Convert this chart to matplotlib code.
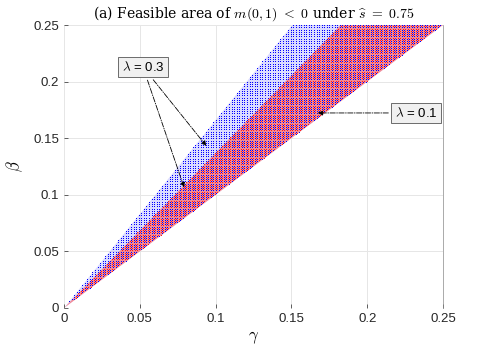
import numpy as np
import matplotlib
matplotlib.use("Agg")
import matplotlib.pyplot as plt

# Region boundaries (beta = slope * gamma)
lam03_slopes = [1.0, 1.66]   # lambda = 0.3 feasible wedge
lam01_slopes = [1.0, 1.37]   # lambda = 0.1 feasible wedge
gamma_step = 0.0017
beta_step = 0.0020
xticks = [0, 0.05, 0.1, 0.15, 0.2, 0.25]
yticks = [0, 0.05, 0.1, 0.15, 0.2, 0.25]

plt.rcParams['mathtext.fontset'] = 'cm'

fig = plt.figure(figsize=(4.9, 3.46), dpi=100)
ax = fig.add_axes([64/490, 1-308/346, (443-64)/490, (308-25)/346])

g = np.arange(gamma_step, 0.25 + 1e-9, gamma_step)
b = np.arange(beta_step / 2, 0.25 + 1e-9, beta_step)
G, B = np.meshgrid(g, b)
m03 = (B >= lam03_slopes[0]*G) & (B <= lam03_slopes[1]*G)
m01 = (B >= lam01_slopes[0]*G) & (B <= lam01_slopes[1]*G)

# light background tint of the wedges
gg = np.array([0, 0.25])
ax.fill_between(gg, lam03_slopes[0]*gg, lam03_slopes[1]*gg, color='#b0b0ff', alpha=0.45, lw=0)
ax.fill_between(gg, lam01_slopes[0]*gg, lam01_slopes[1]*gg, color='#ff6060', alpha=0.65, lw=0)

ax.plot(G[m03], B[m03], ',', color='blue')
ax.plot(G[m01] + gamma_step/2, B[m01] + beta_step/2, ',', color='#ff1a1a')

ax.set_xlim(0, 0.25)
ax.set_ylim(0, 0.25)
ax.set_xticks(xticks)
ax.set_yticks(yticks)
ax.set_xticklabels(['0', '0.05', '0.1', '0.15', '0.2', '0.25'])
ax.set_yticklabels(['0', '0.05', '0.1', '0.15', '0.2', '0.25'])
ax.tick_params(direction='in', length=3, width=0.5, colors='#262626', labelsize=9.5)
for lbl in ax.get_xticklabels() + ax.get_yticklabels():
    lbl.set_family('Liberation Sans')
ax.grid(True, color='#e6e6e6', linewidth=0.7)
ax.set_axisbelow(True)
for s in ax.spines.values():
    s.set_color('#262626')
    s.set_linewidth(0.5)
ax.spines['top'].set_visible(False)
ax.spines['left'].set_visible(False)
ax.spines['bottom'].set_visible(False)
ax.spines['right'].set_color('#888888')

ax.set_xlabel(r'$\gamma$', fontsize=12, labelpad=2)
ax.set_ylabel(r'$\beta$', fontsize=12, labelpad=6)
ax.set_title(r'(a) Feasible area of $m(0,1)\ <\ 0$ under $\widehat{s}\ =\ 0.75$',
             fontsize=10, pad=5)
ax.title.set_fontfamily('DejaVu Serif')

bbox = dict(boxstyle='square,pad=0.25', fc='#f0f0f0', ec='#555555', lw=0.6)
arrow = dict(arrowstyle='-|>', color='black', lw=0.6, linestyle='-.', mutation_scale=7)
ax.annotate(r'$\lambda$ = 0.3', xy=(0.095, 0.1413), xytext=(0.0521, 0.2129),
            ha='center', va='center', fontsize=9.5, family='Liberation Sans',
            bbox=bbox, arrowprops=arrow, zorder=10)
ax.annotate('', xy=(0.0798, 0.1042), xytext=(0.0521, 0.2129),
            arrowprops=dict(arrowstyle='-|>', color='black', lw=0.6, linestyle='-.',
                            mutation_scale=7, shrinkA=10), zorder=10)
ax.annotate(r'$\lambda$ = 0.1', xy=(0.1656, 0.1723), xytext=(0.2322, 0.1723),
            ha='center', va='center', fontsize=9.5, family='Liberation Sans',
            bbox=bbox, arrowprops=arrow, zorder=10)

fig.savefig('out.png', dpi=100)
